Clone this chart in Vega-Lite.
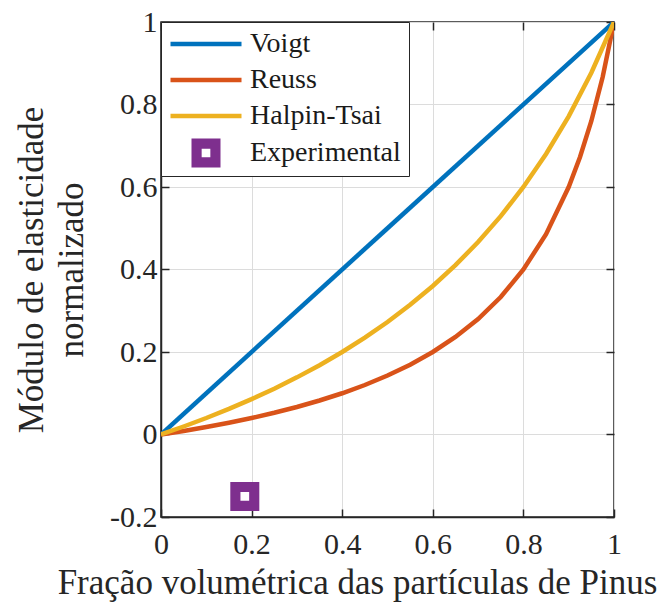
{
  "$schema": "https://vega.github.io/schema/vega-lite/v6.json",
  "width": 453,
  "height": 495,
  "autosize": {"type": "none"},
  "padding": {"left": 161, "top": 22, "right": 57, "bottom": 91},
  "background": "white",
  "config": {
    "font": "Liberation Serif",
    "view": {"stroke": "#262626", "strokeWidth": 1.5},
    "axis": {
      "labelFont": "Liberation Serif",
      "titleFont": "Liberation Serif",
      "labelFontSize": 30,
      "titleFontSize": 35,
      "titleFontWeight": "normal",
      "labelColor": "#262626",
      "titleColor": "#262626",
      "domainColor": "#262626",
      "domainWidth": 1.5,
      "tickColor": "#262626",
      "tickWidth": 1.5,
      "tickSize": -8,
      "gridColor": "#dcdcdc",
      "gridWidth": 1
    }
  },
  "data": {
    "values": [
      {"series": "Voigt", "x": 0, "y": 0},
      {"series": "Voigt", "x": 0.5, "y": 0.5},
      {"series": "Voigt", "x": 1, "y": 1},
      {"series": "Reuss", "x": 0, "y": 0},
      {"series": "Reuss", "x": 0.05, "y": 0.0087},
      {"series": "Reuss", "x": 0.1, "y": 0.0182},
      {"series": "Reuss", "x": 0.15, "y": 0.0286},
      {"series": "Reuss", "x": 0.2, "y": 0.04},
      {"series": "Reuss", "x": 0.25, "y": 0.0526},
      {"series": "Reuss", "x": 0.3, "y": 0.0667},
      {"series": "Reuss", "x": 0.35, "y": 0.0824},
      {"series": "Reuss", "x": 0.4, "y": 0.1},
      {"series": "Reuss", "x": 0.45, "y": 0.12},
      {"series": "Reuss", "x": 0.5, "y": 0.1429},
      {"series": "Reuss", "x": 0.55, "y": 0.1692},
      {"series": "Reuss", "x": 0.6, "y": 0.2},
      {"series": "Reuss", "x": 0.65, "y": 0.2364},
      {"series": "Reuss", "x": 0.7, "y": 0.28},
      {"series": "Reuss", "x": 0.75, "y": 0.3333},
      {"series": "Reuss", "x": 0.8, "y": 0.4},
      {"series": "Reuss", "x": 0.85, "y": 0.4857},
      {"series": "Reuss", "x": 0.9, "y": 0.6},
      {"series": "Reuss", "x": 0.925, "y": 0.6727},
      {"series": "Reuss", "x": 0.95, "y": 0.76},
      {"series": "Reuss", "x": 0.975, "y": 0.8667},
      {"series": "Reuss", "x": 1, "y": 1},
      {"series": "Halpin-Tsai", "x": 0, "y": 0},
      {"series": "Halpin-Tsai", "x": 0.05, "y": 0.0194},
      {"series": "Halpin-Tsai", "x": 0.1, "y": 0.04},
      {"series": "Halpin-Tsai", "x": 0.15, "y": 0.0621},
      {"series": "Halpin-Tsai", "x": 0.2, "y": 0.0857},
      {"series": "Halpin-Tsai", "x": 0.25, "y": 0.1111},
      {"series": "Halpin-Tsai", "x": 0.3, "y": 0.1385},
      {"series": "Halpin-Tsai", "x": 0.35, "y": 0.168},
      {"series": "Halpin-Tsai", "x": 0.4, "y": 0.2},
      {"series": "Halpin-Tsai", "x": 0.45, "y": 0.2348},
      {"series": "Halpin-Tsai", "x": 0.5, "y": 0.2727},
      {"series": "Halpin-Tsai", "x": 0.55, "y": 0.3143},
      {"series": "Halpin-Tsai", "x": 0.6, "y": 0.36},
      {"series": "Halpin-Tsai", "x": 0.65, "y": 0.4105},
      {"series": "Halpin-Tsai", "x": 0.7, "y": 0.4667},
      {"series": "Halpin-Tsai", "x": 0.75, "y": 0.5294},
      {"series": "Halpin-Tsai", "x": 0.8, "y": 0.6},
      {"series": "Halpin-Tsai", "x": 0.85, "y": 0.68},
      {"series": "Halpin-Tsai", "x": 0.9, "y": 0.7714},
      {"series": "Halpin-Tsai", "x": 0.95, "y": 0.8769},
      {"series": "Halpin-Tsai", "x": 1, "y": 1},
      {"series": "Experimental", "x": 0.185, "y": -0.15}
    ]
  },
  "layer": [
    {
      "transform": [{"filter": "datum.series !== 'Experimental'"}],
      "mark": {"type": "line", "strokeWidth": 4.5, "clip": true},
      "encoding": {
        "x": {
          "field": "x", "type": "quantitative",
          "scale": {"domain": [0, 1], "nice": false},
          "axis": {
            "title": "Fração volumétrica das partículas de Pinus",
            "values": [0, 0.2, 0.4, 0.6, 0.8, 1],
            "format": "~g",
            "labelPadding": 20,
            "titlePadding": 6,
            "titleX": 196,
            "labelFlush": false
          }
        },
        "y": {
          "field": "y", "type": "quantitative",
          "scale": {"domain": [-0.2, 1], "nice": false, "zero": false},
          "axis": {
            "title": ["Módulo de elasticidade", "normalizado"],
            "values": [-0.2, 0, 0.2, 0.4, 0.6, 0.8, 1],
            "format": "~g",
            "labelExpr": "replace(datum.label, '−', '-')",
            "labelPadding": 12,
            "titlePadding": 20,
            "titleLineHeight": 40,
            "labelFlush": false
          }
        },
        "stroke": {
          "field": "series", "type": "nominal",
          "scale": {
            "domain": ["Voigt", "Reuss", "Halpin-Tsai", "Experimental"],
            "range": ["#0072BD", "#D95319", "#EDB120", "#7E2F8E"]
          },
          "legend": {
            "title": null,
            "orient": "top-left",
            "offset": 0,
            "fillColor": "white",
            "strokeColor": "#262626",
            "padding": 8,
            "symbolType": "stroke",
            "symbolSize": 5041,
            "symbolStrokeWidth": 4.5,
            "symbolOffset": 23,
            "labelFont": "Liberation Serif",
            "labelFontSize": 28,
            "labelColor": "#1a1a1a",
            "labelOffset": 30,
            "rowPadding": 8,
            "encode": {
              "symbols": {
                "update": {
                  "shape": {"signal": "datum.value === 'Experimental' ? 'M-1,-1H1V1H-1Z M-0.3,-0.3V0.3H0.3V-0.3Z' : 'stroke'"},
                  "size": {"signal": "datum.value === 'Experimental' ? 841 : 5041"},
                  "strokeWidth": {"signal": "datum.value === 'Experimental' ? 0 : 4.5"},
                  "fill": {"signal": "datum.value === 'Experimental' ? '#7E2F8E' : 'transparent'"}
                }
              }
            }
          }
        }
      }
    },
    {
      "transform": [{"filter": "datum.series === 'Experimental'"}],
      "mark": {"type": "point", "shape": "M-1,-1H1V1H-1Z M-0.3,-0.3V0.3H0.3V-0.3Z", "filled": true, "fill": "#7E2F8E", "size": 841, "strokeWidth": 0, "opacity": 1},
      "encoding": {
        "x": {"field": "x", "type": "quantitative", "axis": null},
        "y": {"field": "y", "type": "quantitative", "axis": null}
      }
    },
    {
      "mark": {"type": "point", "opacity": 0},
      "encoding": {
        "x": {"field": "x", "type": "quantitative", "axis": {"orient": "top", "labels": false, "grid": false, "title": null, "domain": false, "values": [0, 0.2, 0.4, 0.6, 0.8, 1]}},
        "y": {"field": "y", "type": "quantitative", "axis": {"orient": "right", "labels": false, "grid": false, "title": null, "domain": false, "values": [-0.2, 0, 0.2, 0.4, 0.6, 0.8, 1]}}
      }
    }
  ],
  "resolve": {"axis": {"x": "independent", "y": "independent"}}
}
